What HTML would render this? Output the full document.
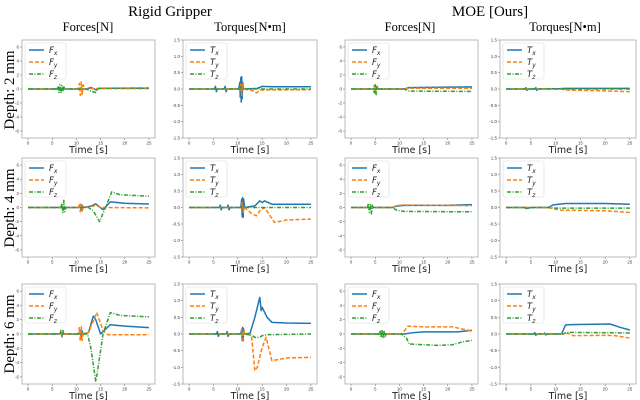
<!DOCTYPE html>
<html><head><meta charset="utf-8"><style>
html,body{margin:0;padding:0;background:#fff;}
svg{display:block;}
</style></head><body>
<svg id="fig" width="640" height="400" viewBox="0 0 640 400" xmlns="http://www.w3.org/2000/svg">
<text x="170" y="16" font-family="Liberation Serif, serif" font-size="15" text-anchor="middle">Rigid Gripper</text>
<text x="490" y="16" font-family="Liberation Serif, serif" font-size="15" text-anchor="middle">MOE [Ours]</text>
<text x="88" y="31" font-family="Liberation Serif, serif" font-size="12.5" text-anchor="middle">Forces[N]</text>
<text x="250" y="31" font-family="Liberation Serif, serif" font-size="12.5" text-anchor="middle">Torques[N•m]</text>
<text x="410" y="31" font-family="Liberation Serif, serif" font-size="12.5" text-anchor="middle">Forces[N]</text>
<text x="565" y="31" font-family="Liberation Serif, serif" font-size="12.5" text-anchor="middle">Torques[N•m]</text>
<text transform="translate(14,90) rotate(-90)" font-family="Liberation Serif, serif" font-size="15" text-anchor="middle">Depth: 2 mm</text>
<text transform="translate(14,208) rotate(-90)" font-family="Liberation Serif, serif" font-size="15" text-anchor="middle">Depth: 4 mm</text>
<text transform="translate(14,334) rotate(-90)" font-family="Liberation Serif, serif" font-size="15" text-anchor="middle">Depth: 6 mm</text>
</svg>
<script>
// ---- data: [time, value] pairs ----
const rg2Fx=[[0,0],[12,0],[13,0.2],[14,-0.1],[15,0.1],[25,0.1]];
const rg2Fy=[[0,0],[10.4,0],[10.6,0.8],[10.8,-0.9],[11,1],[11.2,-0.8],[11.4,0.6],[11.6,0],[13,0.05],[25,0.05]];
const rg2Fz=[[0,0],[6,0],[6.2,0.4],[6.4,-0.5],[6.6,0.6],[6.8,-0.6],[7,0.5],[7.2,-0.4],[7.4,0.3],[7.6,0],[12,0],[13,-0.3],[14,-0.5],[14.5,0.1],[15,0.1],[25,0.15]];
const rg2Tx=[[0,0],[5.2,0],[5.4,0.08],[5.6,-0.08],[5.8,0],[7.2,0],[7.4,0.08],[7.6,-0.08],[7.8,0],[10.2,0],[10.4,0.2],[10.5,-0.25],[10.6,0.35],[10.7,-0.4],[10.8,0.38],[10.9,-0.3],[11,0.2],[11.2,0],[14,0.02],[15,0.08],[17,0.07],[25,0.07]];
const rg2Ty=[[0,0],[10.4,0],[10.6,0.15],[10.8,-0.2],[11,0.15],[11.2,0],[13,-0.05],[13.8,-0.12],[14.5,-0.03],[25,-0.02]];
const rg2Tz=[[0,0],[25,0]];
const rg4Fx=[[0,0],[10.6,0],[10.8,0.4],[11,-0.4],[11.2,0.3],[11.4,0],[13,0.2],[14,0.5],[15.5,-0.3],[17,0.8],[20,0.6],[25,0.5]];
const rg4Fy=[[0,0],[10.4,0],[10.6,0.5],[10.8,-0.6],[11,0.6],[11.2,-0.5],[11.4,0],[13,0.1],[14,0.3],[15,0],[25,-0.05]];
const rg4Fz=[[0,0],[6.8,0],[7,0.6],[7.2,-0.7],[7.4,1],[7.6,-0.6],[7.8,0],[12.5,0],[13.5,-0.5],[14.8,-2],[16,0],[17.3,2.2],[19,1.8],[25,1.6]];
const rg4Tx=[[0,0],[6.2,0],[6.4,0.07],[6.6,-0.07],[6.8,0],[7.8,0],[8,0.07],[8.2,-0.07],[8.4,0],[10.6,0],[10.8,0.25],[10.9,-0.28],[11,0.3],[11.1,-0.3],[11.2,0.25],[11.4,0],[13.5,0.05],[14.5,0.2],[15,0.15],[15.5,0.2],[17,0.1],[25,0.1]];
const rg4Ty=[[0,0],[10.7,0],[10.9,0.15],[11.1,-0.15],[11.3,0],[13,-0.2],[13.8,-0.25],[14.5,-0.1],[15.5,0],[17.5,-0.45],[20,-0.38],[25,-0.35]];
const rg4Tz=[[0,0],[25,0]];
const rg6Fx=[[0,0],[10.6,0],[10.8,0.5],[11,-0.6],[11.2,0.4],[11.4,0],[12.5,0.2],[13.5,2.5],[14,2],[15,0],[17,1.3],[20,1.1],[25,0.9]];
const rg6Fy=[[0,0],[10.4,0],[10.6,0.9],[10.8,-1],[11,1],[11.2,-0.9],[11.4,0],[12.5,0.2],[14.2,3],[15.5,0.5],[16.5,-0.1],[25,-0.1]];
const rg6Fz=[[0,0],[6.6,0],[6.8,0.5],[7,-0.4],[7.2,0.5],[7.4,0],[12.3,0],[13,-2],[14,-6.6],[14.3,-5.5],[15.5,0],[17,3],[19,2.6],[25,2.4]];
const rg6Tx=[[0,0],[5.6,0],[5.8,0.07],[6,-0.07],[6.2,0],[7.6,0],[7.8,0.07],[8,-0.07],[8.2,0],[10.6,0],[10.8,0.15],[10.9,-0.2],[11,0.2],[11.1,-0.2],[11.2,0.15],[11.4,0],[12.5,0.02],[13.5,0.5],[14,0.8],[14.5,1.1],[14.8,0.7],[15,0.8],[16,0.5],[17,0.35],[20,0.33],[25,0.32]];
const rg6Ty=[[0,0],[10.6,0],[10.8,0.15],[11,-0.18],[11.2,0.12],[11.4,0],[12.8,-0.05],[13.5,-1.1],[14,-1.0],[15,-0.4],[15.8,-0.1],[17,-0.8],[20,-0.72],[25,-0.7]];
const rg6Tz=[[0,0],[12.5,0],[13.5,-0.1],[14.5,-0.1],[15,-0.05],[16,-0.02],[25,0]];
const moe2Fx=[[0,0],[11,0],[12,0.2],[18,0.25],[25,0.3]];
const moe2Fy=[[0,0],[4.6,0],[4.8,0.5],[5,-0.6],[5.2,0.5],[5.4,0],[11,0],[12,0.1],[25,0.1]];
const moe2Fz=[[0,0],[4.6,0],[4.8,-0.5],[5,0.6],[5.2,-0.8],[5.4,0.4],[5.6,0],[11,0],[12,-0.3],[25,-0.35]];
const moe2Tx=[[0,0],[3.8,0],[4,0.04],[4.2,-0.04],[4.4,0],[5.8,0],[6,0.04],[6.2,-0.04],[6.4,0],[11,0.01],[12,0.02],[25,0.02]];
const moe2Ty=[[0,0],[11,0],[12,-0.03],[18,-0.05],[25,-0.08]];
const moe2Tz=[[0,0],[25,0]];
const moe4Fx=[[0,0],[8.5,0],[9.5,0.2],[11,0.3],[20,0.3],[25,0.4]];
const moe4Fy=[[0,0],[8.5,0],[9.5,0.3],[11,0.35],[20,0.3],[25,0.25]];
const moe4Fz=[[0,0],[3.4,0],[3.6,0.6],[3.8,-0.7],[4,0.5],[4.2,-0.9],[4.4,0.3],[4.6,0],[8.5,0],[9.5,-0.4],[11,-0.55],[20,-0.6],[25,-0.6]];
const moe4Tx=[[0,0],[3.8,0],[4,-0.03],[4.5,-0.02],[5,0],[8.5,0],[9.5,0.08],[12,0.12],[20,0.12],[25,0.1]];
const moe4Ty=[[0,0],[8.5,0],[10,-0.05],[11,-0.08],[20,-0.1],[25,-0.15]];
const moe4Tz=[[0,0],[8.5,0],[10,-0.02],[25,-0.02]];
const moe6Fx=[[0,0],[11,0],[13,0.2],[15,0.3],[22,0.3],[25,0.5]];
const moe6Fy=[[0,0],[10.5,0],[11.8,1.1],[15,1.0],[21,1.0],[23,0.7],[25,0.4]];
const moe6Fz=[[0,0],[5.8,0],[6,0.5],[6.2,-0.5],[6.4,0.6],[6.6,-0.6],[6.8,0.5],[7,-0.5],[7.2,0],[10.5,0],[11.5,-0.6],[12,-1.4],[15,-1.5],[18,-1.6],[21,-1.5],[23,-1.1],[25,-0.9]];
const moe6Tx=[[0,0],[5.6,0],[5.8,0.04],[6,-0.04],[6.2,0],[7.6,0],[7.8,0.03],[8,-0.03],[8.2,0],[11.2,0],[12,0.27],[13,0.28],[21,0.3],[23,0.2],[25,0.12]];
const moe6Ty=[[0,0],[11.5,0],[12.5,0.02],[13.5,-0.05],[20,-0.04],[22,-0.05],[25,-0.12]];
const moe6Tz=[[0,0],[11.5,0],[12.2,0.05],[25,0.03]];
const forceTicks=[-6,-4,-2,0,2,4,6];
const forceTickLabels=["-6","-4","-2","0","2","4","6"];
const torqueTicks=[-1.5,-1,-0.5,0,0.5,1,1.5];
const torqueTickLabels=["-1.5","-1.0","-0.5","0.0","0.5","1.0","1.5"];
const timeTicks=[0,5,10,15,20,25];

const svg=document.getElementById('fig');
const NS='http://www.w3.org/2000/svg';
const colors=['#1f77b4','#ff7f0e','#2ca02c'];
const dashes=['', '4,2', '4,1.5,1,1.5'];
const cols=[[22,155],[183,317],[345,478],[500,636]];
const rows=[[40,138],[158,257],[284,384]];
const panelData=[
 [[rg2Fx,rg2Fy,rg2Fz],[rg2Tx,rg2Ty,rg2Tz],[moe2Fx,moe2Fy,moe2Fz],[moe2Tx,moe2Ty,moe2Tz]],
 [[rg4Fx,rg4Fy,rg4Fz],[rg4Tx,rg4Ty,rg4Tz],[moe4Fx,moe4Fy,moe4Fz],[moe4Tx,moe4Ty,moe4Tz]],
 [[rg6Fx,rg6Fy,rg6Fz],[rg6Tx,rg6Ty,rg6Tz],[moe6Fx,moe6Fy,moe6Fz],[moe6Tx,moe6Ty,moe6Tz]]
];
function mk(tag,attrs,parent){const e=document.createElementNS(NS,tag);for(const k in attrs)e.setAttribute(k,attrs[k]);(parent||svg).appendChild(e);return e;}
let cid=0;
for(let r=0;r<3;r++){for(let c=0;c<4;c++){
 const [x0,x1]=cols[c],[y0,y1]=rows[r];
 const isF=(c%2===0);
 const ymin=isF?-7:-1.5, ymax=isF?7:1.5;
 const sx=t=>x0+(t+1.25)/27.5*(x1-x0);
 const sy=v=>y1-(v-ymin)/(ymax-ymin)*(y1-y0);
 const g=mk('g',{});
 
 
 const clip=mk('clipPath',{id:'cp'+cid},g);
 mk('rect',{x:x0,y:y0,width:x1-x0,height:y1-y0},clip);
 const yt=isF?forceTicks:torqueTicks, ytl=isF?forceTickLabels:torqueTickLabels;
 yt.forEach((v,i)=>{
  mk('line',{x1:x0-2,x2:x0,y1:sy(v),y2:sy(v),stroke:'#555','stroke-width':0.5},g);
  const tx=mk('text',{x:x0-3,y:sy(v)+1.5,'font-size':4.5,'text-anchor':'end',fill:'#444','font-family':'Liberation Sans, sans-serif'},g);
  tx.textContent=ytl[i];
  
  
 });
 timeTicks.forEach(t=>{
  mk('line',{x1:sx(t),x2:sx(t),y1:y1,y2:y1+2,stroke:'#555','stroke-width':0.5},g);
  const tx=mk('text',{x:sx(t),y:y1+6.5,'font-size':4.5,'text-anchor':'middle',fill:'#444','font-family':'Liberation Sans, sans-serif'},g);
  tx.textContent=String(t);
  
  
 });
 const xl=mk('text',{x:(x0+x1)/2,y:y1+15,'font-size':9.5,'text-anchor':'middle',fill:'#222','font-family':'DejaVu Sans, sans-serif'},g);
 xl.textContent='Time [s]';
 
 
 const lg=mk('g',{'clip-path':'url(#cp'+cid+')'},g);
 panelData[r][c].forEach((ser,i)=>{
  const d=ser.map((p,j)=>(j?'L':'M')+sx(p[0]).toFixed(2)+','+sy(p[1]).toFixed(2)).join(' ');
  const p=mk('path',{d:d,fill:'none',stroke:colors[i],'stroke-width':1.5,'stroke-linejoin':'round'},lg);
  if(dashes[i])p.setAttribute('stroke-dasharray',dashes[i]);
  
  
 });
 mk('rect',{x:x0,y:y0,width:x1-x0,height:y1-y0,fill:'none',stroke:'#aaa','stroke-width':0.8},g);
 const leg=mk('g',{},g);
 
 
 mk('rect',{x:x0+3,y:y0+3,width:41,height:36,rx:2,fill:'#fff','fill-opacity':0.85,stroke:'#ddd','stroke-width':0.6},leg);
 const sym=isF?'F':'T';
 ['x','y','z'].forEach((s,i)=>{
  const yy=y0+10+i*12;
  const ln=mk('line',{x1:x0+7,x2:x0+22,y1:yy,y2:yy,stroke:colors[i],'stroke-width':1.5},leg);
  if(dashes[i])ln.setAttribute('stroke-dasharray',dashes[i]);
  const tx=mk('text',{x:x0+27,y:yy+3,'font-size':8.5,'font-style':'italic',fill:'#222','font-family':'DejaVu Sans, sans-serif'},leg);
  tx.textContent=sym;
  const sb=mk('tspan',{dy:2,'font-size':6},tx);
  sb.textContent=s;
  
  
 });
 cid++;
}}
</script>
</body></html>
